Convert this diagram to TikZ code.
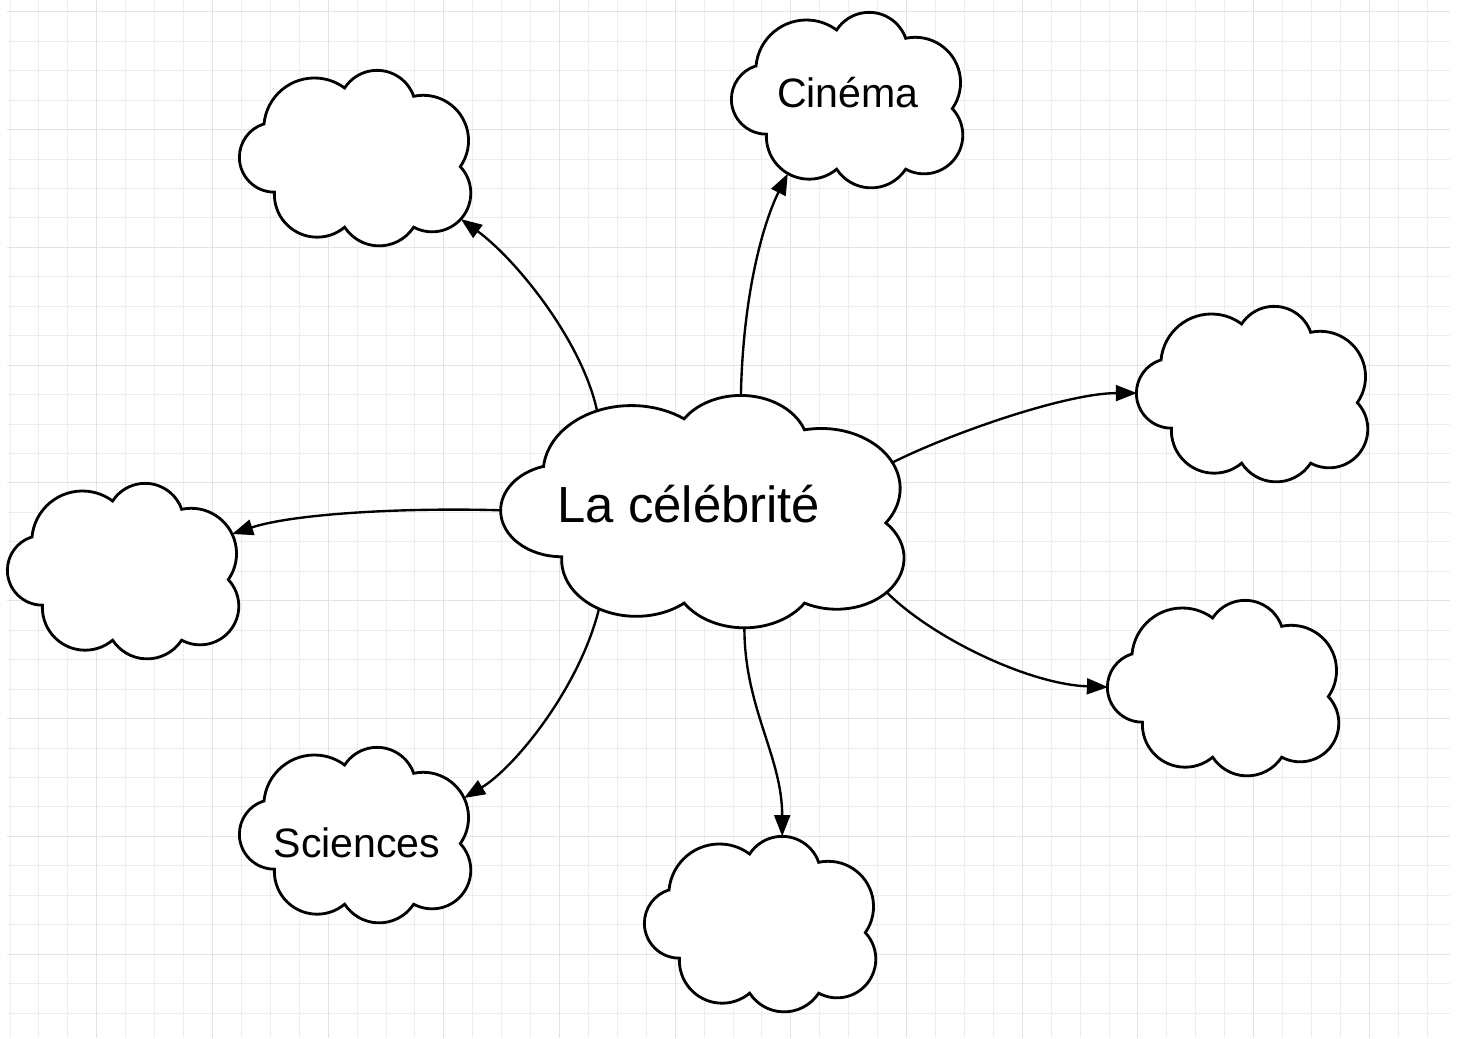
\documentclass[tikz,border=0pt]{standalone}
\usepackage{fontspec}
\setmainfont{Liberation Sans}
\usetikzlibrary{calc,arrows.meta}

\tikzset{
  gridline/.style={draw=black!7, line width=0.5pt},
  gridmajor/.style={draw=black!11, line width=0.6pt},
  cloudline/.style={draw=black, fill=white, line width=1.6pt},
  link/.style={-{Triangle[length=12pt,width=9pt]}, line width=1.35pt},
  bigtext/.style={anchor=base, inner sep=0pt, font=\fontsize{28.9}{34}\selectfont},
  smalltext/.style={anchor=base, inner sep=0pt, font=\fontsize{23.4}{28}\selectfont}
}

% cloud: name, x, y, xscale, yscale
\newcommand{\nuage}[5]{%
  \begin{scope}[shift={(#2,#3)}, xscale=#4, yscale=#5]
    \draw[cloudline] (-91,-34)
      arc[start angle=185.2, end angle=306.7, radius=50.6]
      arc[start angle=212.9, end angle=340.8, radius=38.7]
      arc[start angle=257.8, end angle=395.1, radius=45.3]
      arc[start angle=-43.2, end angle=118.4, radius=38.7]
      arc[start angle=33.1, end angle=146.9, radius=41.2]
      arc[start angle=50, end angle=183, radius=42.8]
      arc[start angle=89.8, end angle=251.8, radius=34.9] -- cycle;
    \coordinate (#1-w) at (-115,-0.9);
    \coordinate (#1-n) at (22.2,-87.7);
    \coordinate (#1-s) at (24.2,88);
    \coordinate (#1-nw) at (-60.3,-76);
    \coordinate (#1-ne) at (109.1,-37);
    \coordinate (#1-se) at (105.9,61.1);
    \coordinate (#1-sw) at (-59.2,73.6);
  \end{scope}}

\begin{document}
\begin{tikzpicture}[x=0.02cm, y=-0.02cm]
\useasboundingbox (0,0) rectangle (1460,1038);
\fill[white] (0,0) rectangle (1460,1038);
% grid
\foreach \i in {0,...,49}
  \draw[gridline] ({10+28.92*\i},0) -- ({10+28.92*\i},1038);
\foreach \j in {0,...,34}
  \draw[gridline] (7,{11.7+29.45*\j}) -- (1450,{11.7+29.45*\j});
\foreach \i in {3,7,...,47}
  \draw[gridmajor] ({10+28.92*\i},0) -- ({10+28.92*\i},1038);
\foreach \j in {0,4,...,32}
  \draw[gridmajor] (7,{11.7+29.45*\j}) -- (1450,{11.7+29.45*\j});

% clouds
\nuage{cel}{702.2}{511.5}{1.7435}{1.3239}
\nuage{hg}{355}{158}{1}{1}
\nuage{cin}{847}{100}{1}{1}
\nuage{dr}{1252}{394}{1}{1}
\nuage{bd}{1223}{688}{1}{1}
\nuage{bas}{760}{924}{1}{1}
\nuage{sci}{355}{835}{1}{1}
\nuage{ga}{123}{571}{1}{1}

\node[bigtext] (cel-txt) at (689,522) {La célébrité};
\node[smalltext] (cin-txt) at (848,107) {Cinéma};
\node[smalltext] (sci-txt) at (357,857) {Sciences};

% links
\draw[link] (cel-nw) .. controls ($(cel-nw)+(-15,-70)$) and ($(hg-se)+(55,40)$) .. (hg-se);
\draw[link] (cel-n) .. controls ($(cel-n)+(2,-100)$) and ($(cin-sw)+(-25,50)$) .. (cin-sw);
\draw[link] (cel-ne) .. controls ($(cel-ne)+(60,-30)$) and ($(dr-w)+(-70,0)$) .. (dr-w);
\draw[link] (cel-se) .. controls ($(cel-se)+(45,45)$) and ($(bd-w)+(-80,-3)$) .. (bd-w);
\draw[link] (cel-s) .. controls ($(cel-s)+(0,80)$) and ($(bas-n)+(0,-80)$) .. (bas-n);
\draw[link] (cel-sw) .. controls ($(cel-sw)+(-20,80)$) and ($(sci-ne)+(50,-30)$) .. (sci-ne);
\draw[link] (cel-w) .. controls ($(cel-w)+(-100,-3)$) and ($(ga-ne)+(60,-20)$) .. (ga-ne);
\end{tikzpicture}
\end{document}
